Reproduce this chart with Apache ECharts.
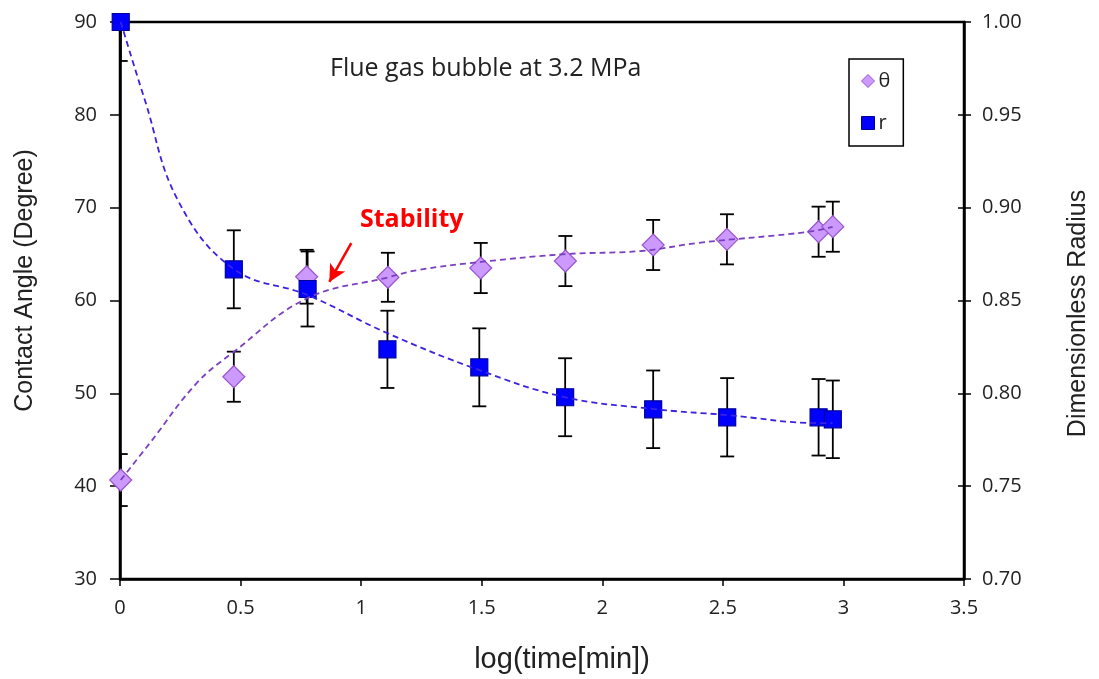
<!DOCTYPE html>
<html>
<head>
<meta charset="utf-8">
<script src="https://cdn.jsdelivr.net/npm/echarts@6/dist/echarts.min.js"></script>
<style>
html,body{margin:0;padding:0;background:#fff;}
#chart{width:1099px;height:679px;}
</style>
</head>
<body>
<div id="chart"></div>
<script>
// Measured data (x = log(time[min]))
const xTheta = [0.003, 0.472, 0.774, 1.111, 1.496, 1.847, 2.211, 2.517, 2.897, 2.956];
const theta = [40.66, 51.79, 62.56, 62.50, 63.50, 64.25, 65.98, 66.59, 67.41, 67.95];
const thetaErr = [2.8, 2.7, 2.9, 2.64, 2.7, 2.7, 2.7, 2.7, 2.7, 2.7];

const xR = [0.003, 0.472, 0.778, 1.109, 1.490, 1.846, 2.211, 2.518, 2.897, 2.956];
const rVals = [1.000, 0.8668, 0.8562, 0.8237, 0.8140, 0.7979, 0.7914, 0.7871, 0.7871, 0.7860];
const rErr = [0.021, 0.021, 0.0202, 0.0208, 0.021, 0.021, 0.0209, 0.0211, 0.0206, 0.0209];

// Dashed trend curves
const thetaFitX = [0.003, 0.124, 0.318, 0.471, 0.773, 1.112, 1.24, 1.496, 1.847, 2.161, 2.397, 2.851, 2.955];
const thetaFitY = [40.66, 44.65, 51.1, 54.45, 60.2, 62.5, 63.3, 64.15, 65.0, 65.33, 66.2, 67.38, 67.92];
const rFitX = [0.003, 0.103, 0.24, 0.471, 0.777, 1.107, 1.488, 1.843, 2.21, 2.517, 2.897, 2.955];
const rFitY = [1.000, 0.958, 0.904, 0.867, 0.853, 0.8325, 0.8126, 0.798, 0.7916, 0.7883, 0.784, 0.784];

const xTicks = [0, 0.5, 1, 1.5, 2, 2.5, 3, 3.5];
const leftTicks = [30, 40, 50, 60, 70, 80, 90];
const rightTicks = [0.70, 0.75, 0.80, 0.85, 0.90, 0.95, 1.00];

const arrowFrom = [0.959, 66.19];
const arrowTo = [0.868, 62.0];

const zip = (a, b) => a.map((v, i) => [v, b[i]]);
const errData = (xs, ys, es) => xs.map((x, i) => [x, ys[i] - es[i], ys[i] + es[i]]);

function errRender(params, api) {
  const x = api.value(0), lo = api.value(1), hi = api.value(2);
  const pTop = api.coord([x, hi]);
  const pBot = api.coord([x, lo]);
  const cap = 7;
  const style = { stroke: '#000', lineWidth: 1.8 };
  return {
    type: 'group',
    children: [
      { type: 'line', shape: { x1: pTop[0], y1: pTop[1], x2: pBot[0], y2: pBot[1] }, style },
      { type: 'line', shape: { x1: pTop[0] - cap, y1: pTop[1], x2: pTop[0] + cap, y2: pTop[1] }, style },
      { type: 'line', shape: { x1: pBot[0] - cap, y1: pBot[1], x2: pBot[0] + cap, y2: pBot[1] }, style }
    ]
  };
}

const chart = echarts.init(document.getElementById('chart'));
const labelFont = { fontFamily: 'Open Sans', fontSize: 20, color: '#222' };
const nameFont = { fontFamily: 'Liberation Sans', fontSize: 25, color: '#222' };

chart.setOption({
  animation: false,
  backgroundColor: '#fff',
  grid: { left: 120, right: 132, top: 22, bottom: 100, show: true, borderColor: '#000', borderWidth: 2.5, backgroundColor: 'transparent' },
  legend: {
    orient: 'vertical',
    left: 849, top: 59,
    padding: [12, 13, 13, 12],
    itemGap: 22,
    itemWidth: 13, itemHeight: 13,
    borderColor: '#000', borderWidth: 1.5,
    textStyle: { fontFamily: 'Open Sans', fontSize: 20, color: '#222', padding: [0, 0, 0, -1] },
    data: [
      { name: 'θ', icon: 'diamond', itemStyle: { color: '#cc99ff', borderColor: '#9955cc', borderWidth: 1 } },
      { name: 'r', icon: 'rect', itemStyle: { color: '#0000ff', borderColor: '#000099', borderWidth: 1 } }
    ]
  },
  xAxis: {
    type: 'value', min: xTicks[0], max: xTicks[xTicks.length - 1], interval: 0.5,
    name: 'log(time[min])', nameLocation: 'middle', nameGap: 66,
    nameTextStyle: { fontFamily: 'Liberation Sans', fontSize: 29, color: '#222', padding: [0, 0, 0, 40] },
    axisLine: { lineStyle: { color: '#000', width: 2.5 } },
    axisTick: { length: 7, lineStyle: { color: '#000', width: 1.5 } },
    axisLabel: Object.assign({ margin: 19 }, labelFont),
    splitLine: { show: false }
  },
  yAxis: [
    {
      type: 'value', position: 'left', min: leftTicks[0], max: leftTicks[leftTicks.length - 1], interval: 10,
      name: 'Contact Angle (Degree)', nameLocation: 'middle', nameGap: 82, nameTextStyle: Object.assign({ padding: [0, 0, 0, 40] }, nameFont),
      axisLine: { show: true, lineStyle: { color: '#000', width: 2.5 } },
      axisTick: { show: true, length: 10, lineStyle: { color: '#000', width: 1.5 } },
      axisLabel: Object.assign({ margin: 23 }, labelFont),
      splitLine: { show: false }
    },
    {
      type: 'value', position: 'right', min: rightTicks[0], max: rightTicks[rightTicks.length - 1], interval: 0.05,
      name: 'Dimensionless Radius', nameLocation: 'middle', nameGap: 102, nameTextStyle: Object.assign({ padding: [0, 26, 0, 0] }, nameFont),
      axisLine: { show: true, lineStyle: { color: '#000', width: 2.5 } },
      axisTick: { show: true, length: 7, lineStyle: { color: '#000', width: 1.5 } },
      axisLabel: Object.assign({ margin: 18, formatter: v => v.toFixed(2) }, labelFont),
      splitLine: { show: false }
    },
    {
      type: 'value', position: 'right', min: rightTicks[0], max: rightTicks[rightTicks.length - 1], interval: 0.05,
      axisLine: { show: false },
      axisTick: { show: true, inside: true, length: 6, lineStyle: { color: '#000', width: 1.5 } },
      axisLabel: { show: false },
      splitLine: { show: false }
    }
  ],
  graphic: [
    { type: 'text', left: 330, top: 56, style: { text: 'Flue gas bubble at 3.2 MPa', fontFamily: 'Open Sans', fontSize: 25, fill: '#222' } },
    { type: 'text', left: 360, top: 207, style: { text: 'Stability', fontFamily: 'Open Sans', fontWeight: 'bold', fontSize: 25, fill: '#ff0000' } }
  ],
  series: [
    { name: 'θerr', type: 'custom', yAxisIndex: 0, clip: true, z: 2, renderItem: errRender, data: errData(xTheta, theta, thetaErr), silent: true },
    { name: 'rerr', type: 'custom', yAxisIndex: 1, clip: true, z: 2, renderItem: errRender, data: errData(xR, rVals, rErr), silent: true },
    {
      name: 'θ', type: 'scatter', yAxisIndex: 0, z: 3, symbol: 'diamond', symbolSize: 22,
      itemStyle: { color: '#cc99ff', borderColor: '#9955cc', borderWidth: 1.2, opacity: 1 },
      data: zip(xTheta, theta)
    },
    {
      name: 'r', type: 'scatter', yAxisIndex: 1, z: 4, symbol: 'rect', symbolSize: 17,
      itemStyle: { color: '#0000ff', borderColor: '#000099', borderWidth: 1.2, opacity: 1 },
      data: zip(xR, rVals)
    },
    {
      name: 'θfit', type: 'line', yAxisIndex: 0, z: 5, smooth: 0.4, symbol: 'none', silent: true,
      lineStyle: { color: '#7a3fc0', width: 1.8, type: [6, 4] },
      data: zip(thetaFitX, thetaFitY),
      markLine: {
        silent: true, symbol: ['none', 'arrow'], symbolSize: [13, 17],
        lineStyle: { color: '#ff0000', width: 2.5, type: 'solid' },
        label: { show: false },
        data: [[{ coord: arrowFrom }, { coord: arrowTo }]]
      }
    },
    {
      name: 'rfit', type: 'line', yAxisIndex: 1, z: 5, smooth: 0.4, symbol: 'none', silent: true,
      lineStyle: { color: '#3a22e0', width: 1.8, type: [6, 4] },
      data: zip(rFitX, rFitY)
    }
  ]
});
</script>
</body>
</html>
